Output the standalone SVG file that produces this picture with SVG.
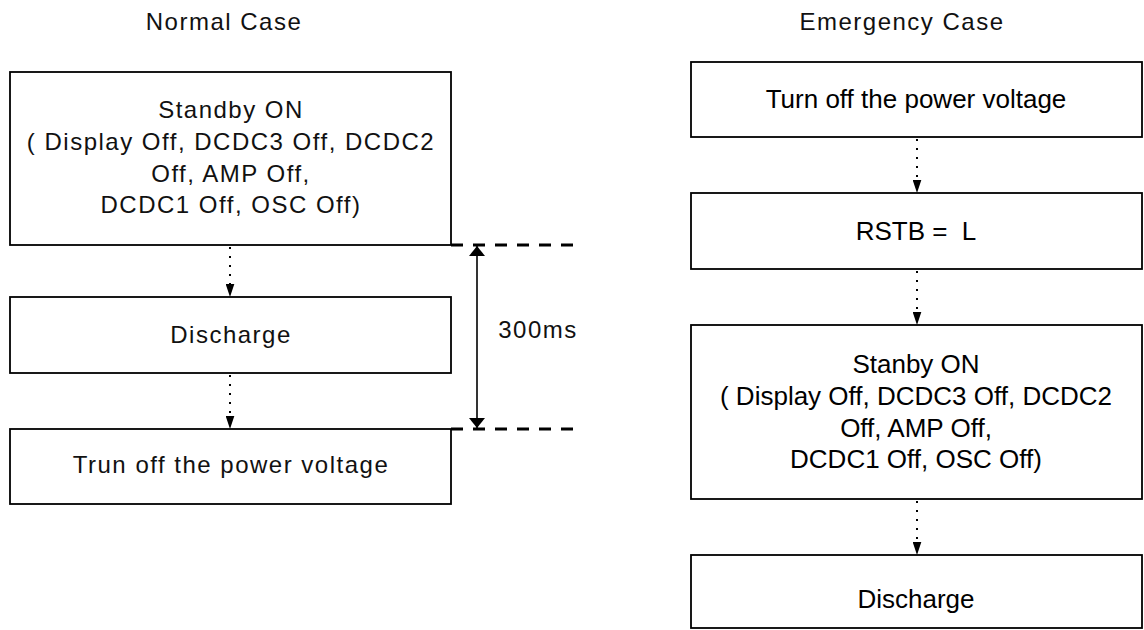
<svg xmlns="http://www.w3.org/2000/svg" width="1144" height="630" viewBox="0 0 1144 630">
<style>
  .box { fill: #fff; stroke: #000; stroke-width: 1.8; }
  .g { font-family: "Liberation Sans", Arial, sans-serif; font-size: 24px; letter-spacing: 1.5px; fill: #111; text-anchor: middle; }
  .a { font-family: "Liberation Sans", Arial, sans-serif; font-size: 26px; fill: #000; text-anchor: middle; }
  .dot { fill: none; stroke: #000; stroke-width: 2; stroke-dasharray: 2 7; }
  .dash { fill: none; stroke: #000; stroke-width: 3; stroke-dasharray: 12 10; }
  .dim { fill: none; stroke: #000; stroke-width: 1.6; }
</style>
<defs>
  <marker id="tri" viewBox="0 0 12 8" refX="12" refY="4" markerWidth="13" markerHeight="9" markerUnits="userSpaceOnUse" orient="auto">
    <path d="M0,0 L12,4 L0,8 Z" fill="#000"/>
  </marker>
  <marker id="dimhead" viewBox="0 0 10 16" refX="10" refY="8" markerWidth="10" markerHeight="16" markerUnits="userSpaceOnUse" orient="auto">
    <path d="M0,0 L10,8 L0,16 Z" fill="#000"/>
  </marker>
</defs>
<rect width="1144" height="630" fill="#fff"/>

<g id="titles">
  <text class="g" x="224" y="30">Normal Case</text>
  <text class="g" x="902" y="30">Emergency Case</text>
</g>

<g id="n-standby">
  <rect class="box" x="10" y="72" width="441" height="173"/>
  <text class="g" x="231" y="118">Standby ON</text>
  <text class="g" x="231" y="150">( Display Off, DCDC3 Off, DCDC2</text>
  <text class="g" x="231" y="182">Off, AMP Off,</text>
  <text class="g" x="231" y="213">DCDC1 Off, OSC Off)</text>
</g>
<g id="n-discharge">
  <rect class="box" x="10" y="297" width="441" height="76"/>
  <text class="g" x="231" y="343">Discharge</text>
</g>
<g id="n-poweroff">
  <rect class="box" x="10" y="429" width="441" height="75"/>
  <text class="g" x="231" y="473">Trun off the power voltage</text>
</g>

<g id="e-poweroff">
  <rect class="box" x="691" y="62" width="451" height="75"/>
  <text class="a" x="916" y="108">Turn off the power voltage</text>
</g>
<g id="e-rstb">
  <rect class="box" x="691" y="193" width="451" height="76"/>
  <text class="a" x="916" y="240" xml:space="preserve">RSTB =  L</text>
</g>
<g id="e-standby">
  <rect class="box" x="691" y="325" width="451" height="174"/>
  <text class="a" x="916" y="373">Stanby ON</text>
  <text class="a" x="916" y="405">( Display Off, DCDC3 Off, DCDC2</text>
  <text class="a" x="916" y="437">Off, AMP Off,</text>
  <text class="a" x="916" y="468">DCDC1 Off, OSC Off)</text>
</g>
<g id="e-discharge">
  <rect class="box" x="691" y="555" width="451" height="73"/>
  <text class="a" x="916" y="608">Discharge</text>
</g>

<g id="timing">
  <path class="dash" d="M451,245 H575"/>
  <path class="dash" d="M451,429 H575"/>
  <path class="dim" d="M477,337 V246" marker-end="url(#dimhead)"/>
  <path class="dim" d="M477,337 V428" marker-end="url(#dimhead)"/>
  <text class="g" x="538" y="338">300ms</text>
</g>

<g id="connectors">
  <path class="dot" d="M230,247 V297" marker-end="url(#tri)"/>
  <path class="dot" d="M230,375 V429" marker-end="url(#tri)"/>
  <path class="dot" d="M917,139 V193" marker-end="url(#tri)"/>
  <path class="dot" d="M917,271 V325" marker-end="url(#tri)"/>
  <path class="dot" d="M917,501 V555" marker-end="url(#tri)"/>
</g>
</svg>
